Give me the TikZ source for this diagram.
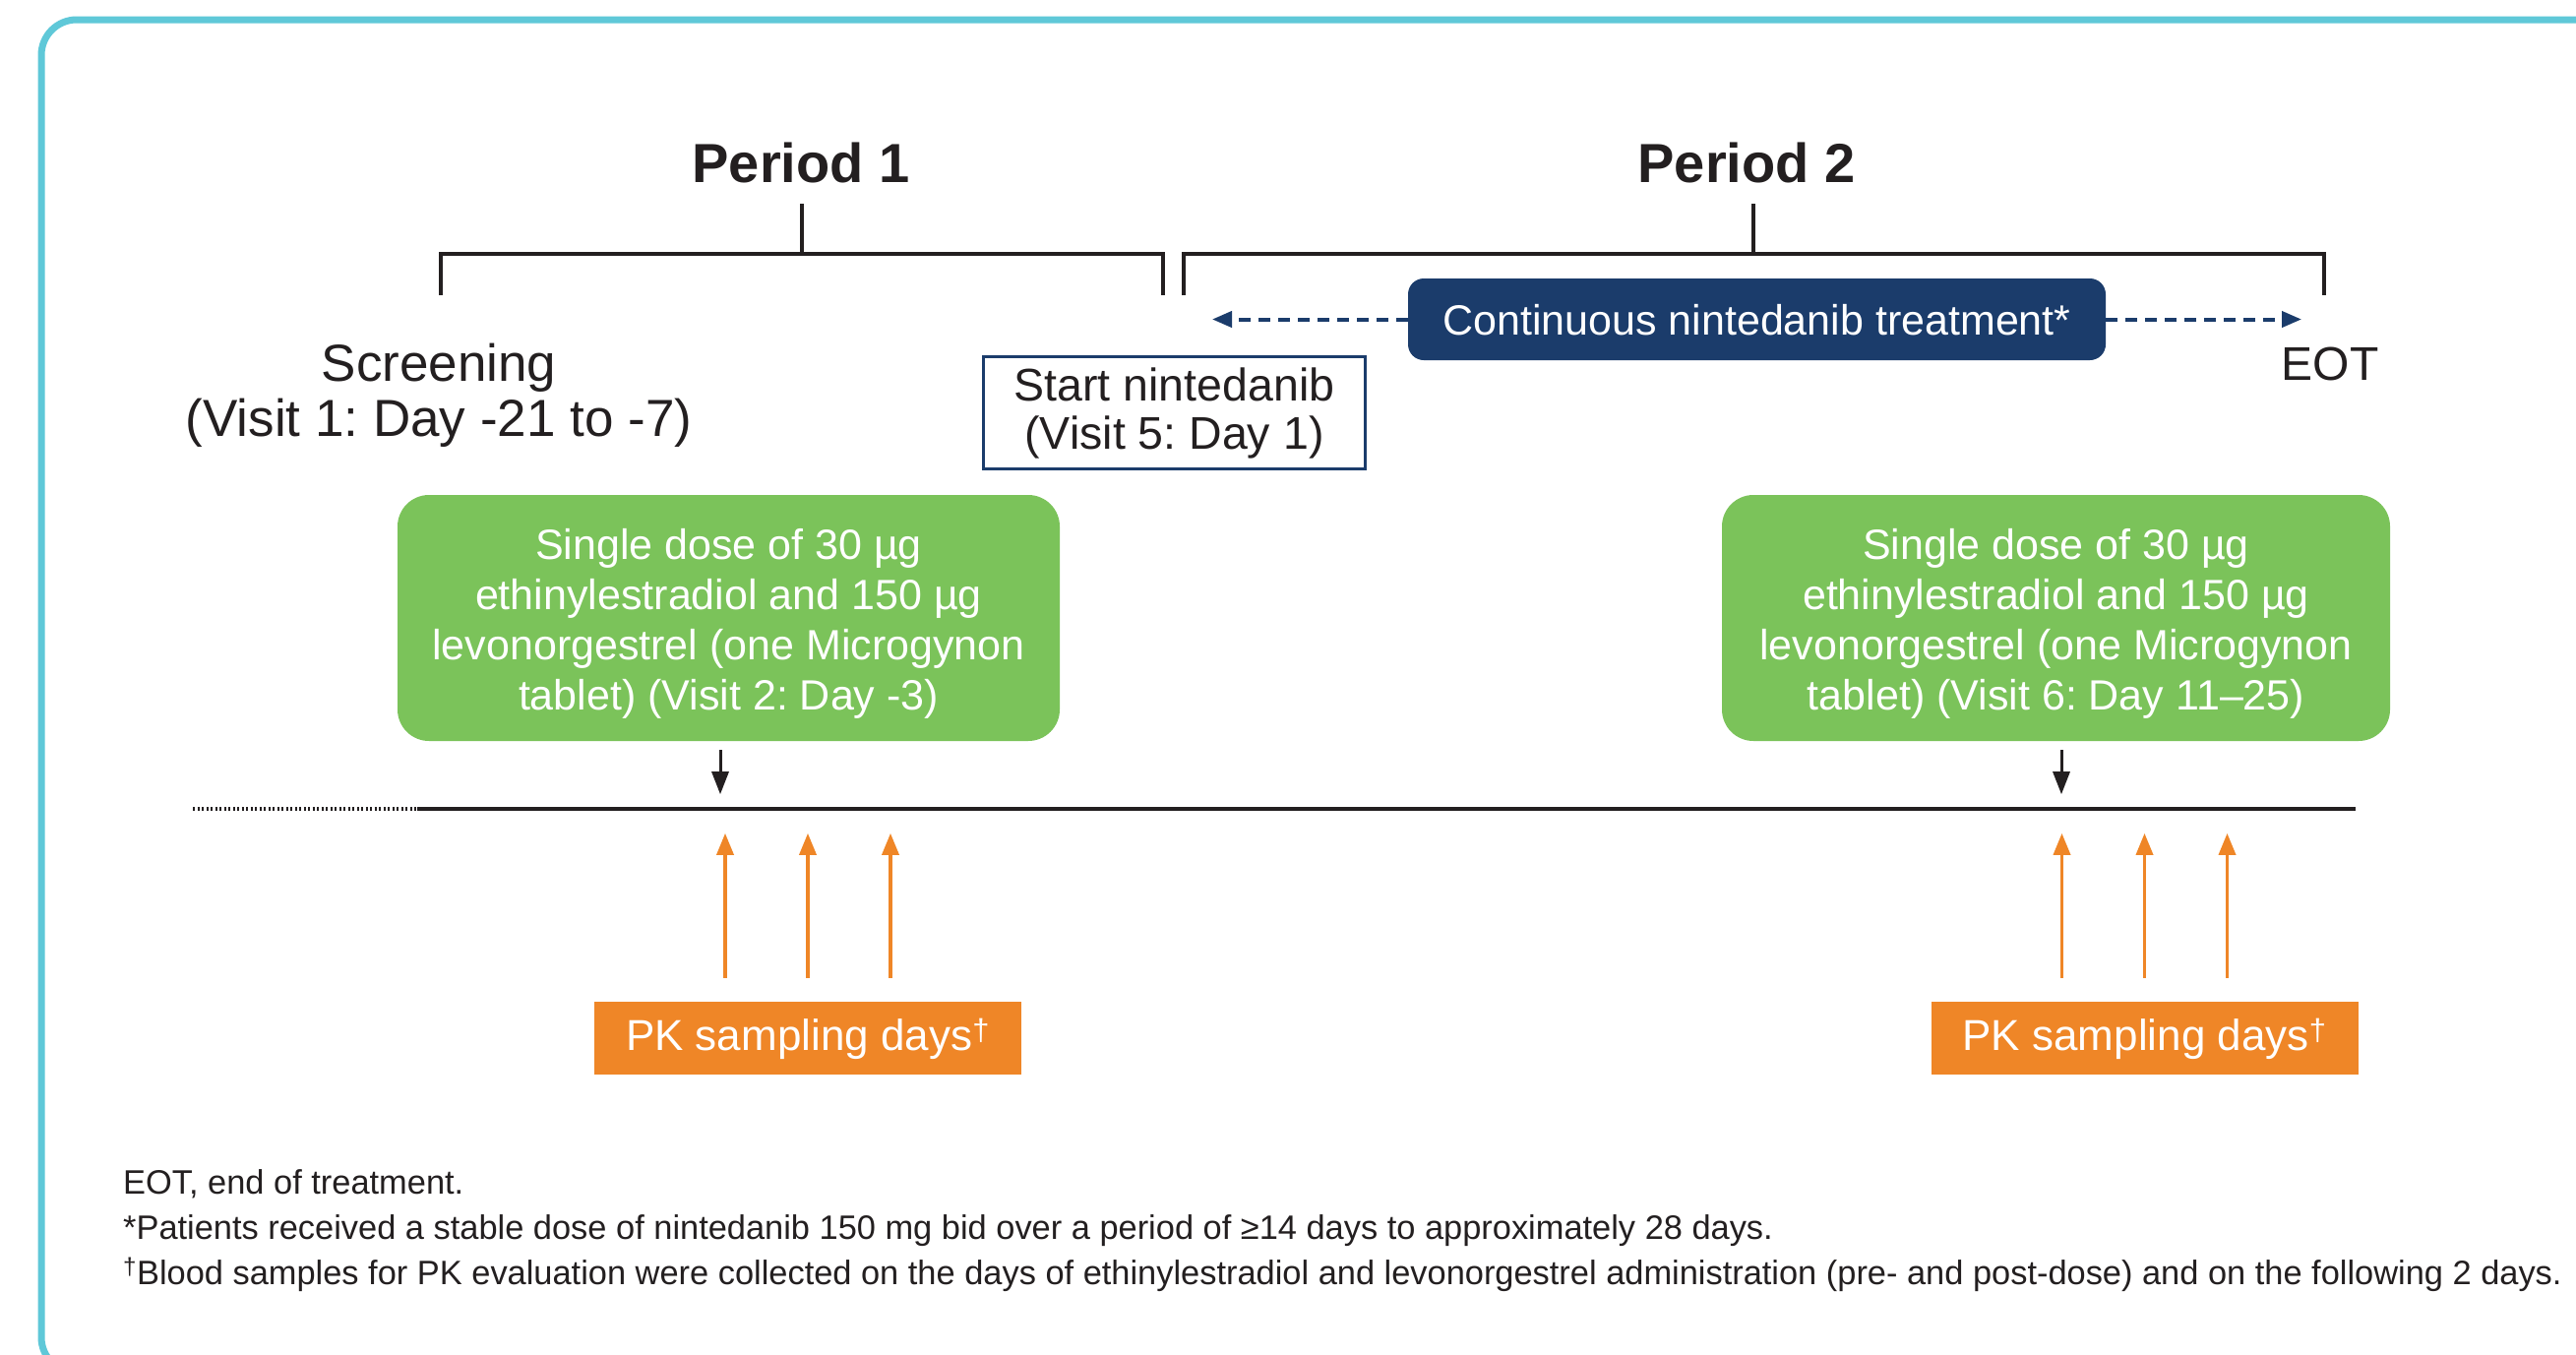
\documentclass[tikz,border=0pt]{standalone}
\usepackage{fontspec}
\setmainfont{Liberation Sans}
\usetikzlibrary{arrows.meta}
\definecolor{frameC}{HTML}{5FC8D8}
\definecolor{navy}{HTML}{1B3C6B}
\definecolor{greenC}{HTML}{7BC35A}
\definecolor{orangeC}{HTML}{EF8627}
\definecolor{inkC}{HTML}{231F20}
\begin{document}
\frenchspacing
\begin{tikzpicture}[x=1pt,y=-1pt,
  frame/.style={draw=frameC,line width=7pt,rounded corners=36pt},
  bracket/.style={draw=inkC,line width=3.5pt},
  title/.style={font=\fontsize{56}{60}\selectfont\bfseries,text=inkC,inner sep=0pt,text height=40pt,text depth=0pt},
  plain/.style={font=\fontsize{53}{56}\selectfont,text=inkC,inner sep=0pt,align=center},
  eot/.style={font=\fontsize{48}{52}\selectfont,text=inkC,inner sep=0pt,text height=35pt,text depth=0pt},
  startbox/.style={draw=navy,line width=3pt,fill=white,font=\fontsize{46.5}{49}\selectfont,text=inkC,align=center,inner sep=0pt,minimum width=388pt,minimum height=114pt},
  contbox/.style={fill=navy,rounded corners=16pt,font=\fontsize{43}{47}\selectfont,text=white,inner sep=0pt,minimum width=709pt,minimum height=83pt,text height=31pt,text depth=0pt},
  greenbox/.style={fill=greenC,rounded corners=32pt,font=\fontsize{43}{51}\selectfont,text=white,align=center,inner sep=0pt,minimum height=250pt},
  pkbox/.style={fill=orangeC,font=\fontsize{44}{48}\selectfont,text=white,inner sep=0pt,minimum width=434pt,minimum height=74pt,text height=32pt,text depth=8pt},
  dasharrow/.style={draw=navy,line width=4pt,dash pattern=on 12pt off 8pt,-{Triangle[length=20pt,width=16pt]}},
  blkarrow/.style={draw=inkC,line width=3pt,-{Triangle[length=23pt,width=17pt]}},
  orarrow/.style={draw=orangeC,line width=3.5pt,-{Triangle[length=22pt,width=17pt]}},
  timeline/.style={draw=inkC,line width=4.5pt},
  dotline/.style={draw=inkC,line width=3.5pt,dash pattern=on 2pt off 2.5pt},
  foot/.style={font=\fontsize{34.4}{40}\selectfont,text=inkC,inner sep=0pt,anchor=base west}
]
\useasboundingbox (0,0) rectangle (2618,1376);
\clip (0,0) rectangle (2618,1376);
\fill[white] (0,0) rectangle (2618,1376);
\draw[frame] (42,20) rectangle (2680,1395);

% titles and brackets
\node[title] (p1) at (814,165) {Period 1};
\node[title] (p2) at (1775,165) {Period 2};
\draw[bracket] (448,300) -- (448,258) -- (1182,258) -- (1182,300);
\draw[bracket] (1203,300) -- (1203,258) -- (2362,258) -- (2362,300);
\draw[bracket] ([yshift=-22pt]p1.south -| 815,0) -- (815,258);
\draw[bracket] ([yshift=-22pt]p2.south -| 1782,0) -- (1782,258);

% labels
\node[plain] (scr) at (446,402) {Screening\\(Visit 1: Day -21 to -7)};
\node[startbox] (start) at (1193.5,419.5) {Start nintedanib\\(Visit 5: Day 1)};
\node[contbox] (cont) at (1785.5,324.5) {Continuous nintedanib treatment*};
\node[eot] (eotl) at (2368,368.5) {EOT};
\coordinate (cl) at (1232,324.5);
\coordinate (cr) at (2339,324.5);
\draw[dasharrow] (cont.west) -- (cl);
\draw[dasharrow] (cont.east) -- (cr);

% green boxes
\node[greenbox,minimum width=673pt] (g1) at (740.5,628) {\rule{0pt}{42pt}Single dose of 30 µg\\ethinylestradiol and 150 µg\\levonorgestrel (one Microgynon\\tablet) (Visit 2: Day -3)};
\node[greenbox,minimum width=679pt] (g2) at (2089.5,628) {\rule{0pt}{42pt}Single dose of 30 µg\\ethinylestradiol and 150 µg\\levonorgestrel (one Microgynon\\tablet) (Visit 6: Day 11–25)};

% timeline
\coordinate (t0) at (196,822);
\coordinate (t1) at (424,822);
\coordinate (t2) at (2394,822);
\draw[dotline] (t0) -- (t1);
\draw[timeline] (t1) -- (t2);

\draw[blkarrow] ([xshift=-8.5pt,yshift=-9pt]g1.south) -- ++(0,45);
\draw[blkarrow] ([xshift=5.5pt,yshift=-9pt]g2.south) -- ++(0,45);

% PK boxes
\node[pkbox] (pk1) at (821,1055) {PK sampling days\textsuperscript{†}};
\node[pkbox] (pk2) at (2179.5,1055) {PK sampling days\textsuperscript{†}};
\foreach \dx in {-84,0,84}{
  \draw[orarrow] ([xshift=\dx pt,yshift=24pt]pk1.north) -- ++(0,-147);
  \draw[orarrow] ([xshift=\dx pt,yshift=24pt]pk2.north) -- ++(0,-147);
}

% footnotes
\node[foot] (f1) at (125,1213) {EOT, end of treatment.};
\node[foot] (f2) at (125,1259) {*Patients received a stable dose of nintedanib 150 mg bid over a period of ≥14 days to approximately 28 days.};
\node[foot] (f3) at (125,1305) {\textsuperscript{†}Blood samples for PK evaluation were collected on the days of ethinylestradiol and levonorgestrel administration (pre- and post-dose) and on the following 2 days.};
\end{tikzpicture}
\end{document}
